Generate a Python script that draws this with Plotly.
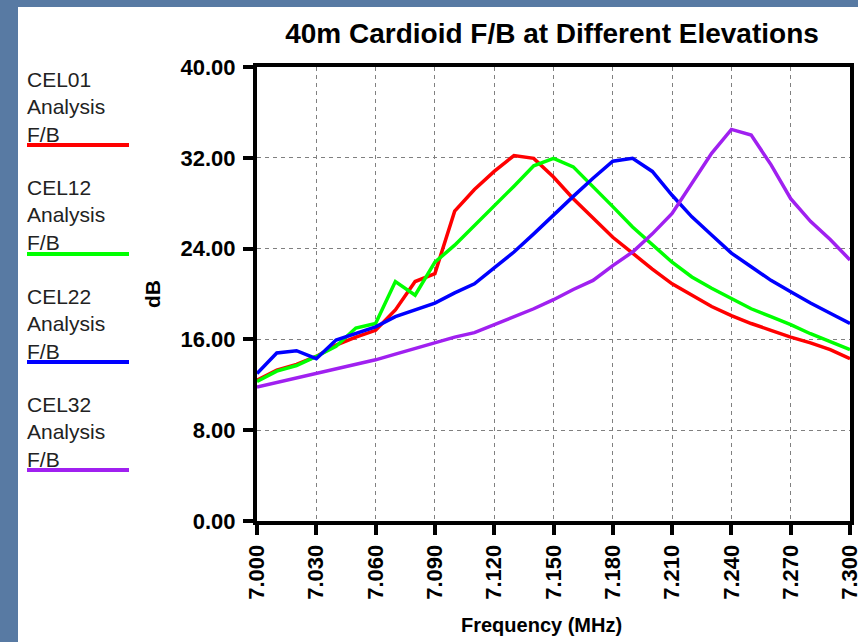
import plotly.graph_objects as go

# ---- data ----
freq_mhz = [7.00, 7.01, 7.02, 7.03, 7.04, 7.05, 7.06, 7.07, 7.08, 7.09, 7.10,
            7.11, 7.12, 7.13, 7.14, 7.15, 7.16, 7.17, 7.18, 7.19, 7.20,
            7.21, 7.22, 7.23, 7.24, 7.25, 7.26, 7.27, 7.28, 7.29, 7.30]

cel01_fb = [12.4, 13.3, 13.8, 14.5, 15.5, 16.2, 16.8, 18.6, 21.1, 21.8, 27.3,
            29.2, 30.8, 32.2, 31.95, 30.3, 28.4, 26.7, 25.0, 23.6, 22.2,
            20.9, 19.9, 18.9, 18.1, 17.4, 16.8, 16.2, 15.7, 15.1, 14.3]

cel12_fb = [12.3, 13.2, 13.7, 14.5, 15.4, 17.0, 17.4, 21.1, 19.9, 22.8, 24.3,
            26.0, 27.7, 29.5, 31.3, 31.95, 31.2, 29.5, 27.7, 25.9, 24.3,
            22.8, 21.5, 20.5, 19.6, 18.7, 18.0, 17.3, 16.5, 15.8, 15.1]

cel22_fb = [13.0, 14.8, 15.0, 14.3, 15.95, 16.5, 17.1, 18.0, 18.6, 19.2, 20.1,
            20.9, 22.3, 23.7, 25.3, 27.0, 28.6, 30.2, 31.7, 31.95, 30.8,
            28.7, 26.8, 25.2, 23.6, 22.4, 21.2, 20.2, 19.2, 18.3, 17.4]

cel32_fb = [11.8, 12.2, 12.6, 13.0, 13.4, 13.8, 14.2, 14.7, 15.2, 15.7, 16.2,
            16.6, 17.3, 18.0, 18.7, 19.5, 20.4, 21.2, 22.5, 23.7, 25.3,
            27.1, 29.8, 32.4, 34.5, 34.0, 31.4, 28.4, 26.4, 24.8, 23.0]

series_names = ["CEL01 Analysis F/B", "CEL12 Analysis F/B",
                "CEL22 Analysis F/B", "CEL32 Analysis F/B"]
series_values = [cel01_fb, cel12_fb, cel22_fb, cel32_fb]
series_colors = ["#ff0000", "#00ff00", "#0000ff", "#a020f0"]

x_tick_vals = [7.00, 7.03, 7.06, 7.09, 7.12, 7.15, 7.18, 7.21, 7.24, 7.27, 7.30]
x_tick_text = ["7.000", "7.030", "7.060", "7.090", "7.120", "7.150",
               "7.180", "7.210", "7.240", "7.270", "7.300"]
y_tick_vals = [0, 8, 16, 24, 32, 40]
y_tick_text = ["0.00", "8.00", "16.00", "24.00", "32.00", "40.00"]

# ---- layout geometry (pixels) ----
W, H = 858, 642
L, R, T, B = 257, 850, 67, 521
FONT = "Liberation Sans, Arial, sans-serif"


def px(x):
    return (x - L) / (R - L)


def py(y):
    return (B - y) / (B - T)


fig = go.Figure()
for name, vals, col in zip(series_names, series_values, series_colors):
    fig.add_trace(go.Scatter(x=freq_mhz, y=vals, mode="lines", name=name,
                             line=dict(color=col, width=3.5),
                             showlegend=False))

shapes = [
    # white panel over blue background
    dict(type="rect", xref="paper", yref="paper", layer="below",
         x0=px(18), x1=px(W + 5), y0=py(H + 5), y1=py(7),
         fillcolor="white", line=dict(width=0)),
]
annotations = []

legend_tops = [66, 174, 283, 391]
legend_lines = [145, 254, 362, 470]
for name, col, top, ly in zip(series_names, series_colors, legend_tops, legend_lines):
    annotations.append(dict(
        xref="paper", yref="paper", x=px(25), y=py(top),
        xanchor="left", yanchor="top", align="left", showarrow=False,
        text="<br>".join(name.split(" ")),
        font=dict(family=FONT, size=21, color="#222222")))
    shapes.append(dict(type="line", xref="paper", yref="paper",
                       x0=px(27), x1=px(129), y0=py(ly), y1=py(ly),
                       line=dict(color=col, width=4)))

annotations.append(dict(xref="paper", yref="paper", x=px(152), y=py(294),
                        text="<b>dB</b>", textangle=-90, showarrow=False,
                        xanchor="center", yanchor="middle",
                        font=dict(family=FONT, size=21, color="black")))
annotations.append(dict(xref="paper", yref="paper", x=px(541), y=py(625),
                        text="<b>Frequency (MHz)</b>", showarrow=False,
                        xanchor="center", yanchor="middle",
                        font=dict(family=FONT, size=20, color="black")))

axis_common = dict(showline=True, linewidth=4, linecolor="black", mirror=True,
                   ticks="outside", ticklen=10, tickwidth=4, tickcolor="black",
                   showgrid=True, gridcolor="#808080", gridwidth=1,
                   griddash="4px,4px", zeroline=False,
                   ticklabeloverflow="allow", automargin=False,
                   tickfont=dict(family=FONT, size=22, color="black", weight="bold"))

fig.update_layout(
    width=W, height=H,
    margin=dict(l=L, r=W - R, t=T, b=H - B, pad=0, autoexpand=False),
    paper_bgcolor="#587aa3",
    plot_bgcolor="white",
    title=dict(text="<b>40m Cardioid F/B at Different Elevations</b>",
               x=px(552), xref="paper", xanchor="center",
               y=1 - 33 / H, yanchor="middle",
               font=dict(family=FONT, size=28, color="black")),
    xaxis=dict(range=[7.0, 7.3], tickvals=x_tick_vals, ticktext=x_tick_text,
               tickangle=-90, ticklabelstandoff=1, **axis_common),
    yaxis=dict(range=[0, 40], tickvals=y_tick_vals, ticktext=y_tick_text,
               ticklabelstandoff=3, **axis_common),
    shapes=shapes,
    annotations=annotations,
)

fig.write_html("out.html",
               config={"displayModeBar": False},
               post_script="document.body.style.margin='0';"
                           "document.body.style.overflow='hidden';")
